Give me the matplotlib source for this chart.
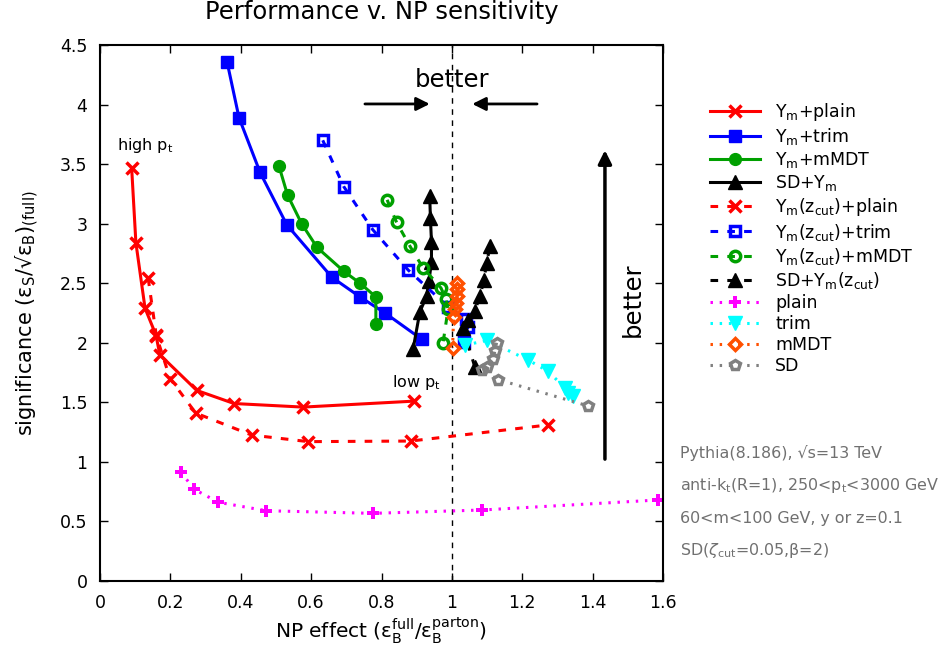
import numpy as np
import matplotlib
matplotlib.use("Agg")
import matplotlib.pyplot as plt

# =========================
# Data
# =========================

# Y_m + plain (solid red, x)
ym_plain_x = [0.090, 0.102, 0.128, 0.159, 0.170, 0.275, 0.381, 0.577, 0.892]
ym_plain_y = [3.465, 2.84, 2.29, 2.065, 1.90, 1.60, 1.49, 1.46, 1.51]

# Y_m + trim (solid blue, squares)
ym_trim_x = [0.361, 0.395, 0.455, 0.531, 0.659, 0.739, 0.810, 0.914]
ym_trim_y = [4.36, 3.89, 3.43, 2.99, 2.55, 2.385, 2.25, 2.03]

# Y_m + mMDT (solid green, circles)
ym_mmdt_x = [0.509, 0.533, 0.573, 0.617, 0.693, 0.739, 0.784, 0.784]
ym_mmdt_y = [3.48, 3.24, 3.00, 2.80, 2.60, 2.50, 2.385, 2.16]

# SD + Y_m (solid black, triangles)
sd_ym_x = [0.937, 0.939, 0.942, 0.942, 0.935, 0.928, 0.909, 0.890]
sd_ym_y = [3.23, 3.05, 2.85, 2.68, 2.52, 2.39, 2.26, 1.95]

# Y_m(zcut) + plain (dashed red)
ymz_plain_x = [0.137, 0.160, 0.199, 0.272, 0.431, 0.592, 0.883, 1.273]
ymz_plain_y = [2.54, 2.06, 1.70, 1.41, 1.225, 1.17, 1.175, 1.31]

# Y_m(zcut) + trim (dashed blue)
ymz_trim_x = [0.633, 0.693, 0.775, 0.876, 0.990, 1.040, 1.046, 1.035]
ymz_trim_y = [3.70, 3.31, 2.95, 2.61, 2.30, 2.20, 2.135, 2.01]

# Y_m(zcut) + mMDT (dashed green)
ymz_mmdt_x = [0.816, 0.843, 0.881, 0.918, 0.969, 0.983, 0.989, 0.975]
ymz_mmdt_y = [3.20, 3.01, 2.81, 2.63, 2.46, 2.37, 2.28, 2.00]

# SD + Y_m(zcut) (dashed black)
sd_ymz_x = [1.065, 1.032, 1.046, 1.065, 1.080, 1.091, 1.099, 1.108]
sd_ymz_y = [1.80, 2.12, 2.19, 2.27, 2.39, 2.53, 2.67, 2.81]

# plain (dotted magenta)
plain_x = [0.230, 0.268, 0.336, 0.472, 0.775, 1.086, 1.585, 1.70]
plain_y = [0.913, 0.770, 0.661, 0.590, 0.568, 0.596, 0.680, 0.72]

# trim (dotted cyan)
trim_x = [1.037, 1.100, 1.217, 1.274, 1.321, 1.330, 1.345]
trim_y = [1.98, 2.02, 1.855, 1.76, 1.62, 1.575, 1.55]

# mMDT (dotted orange)
mmdt_x = [1.015, 1.015, 1.014, 1.012, 1.008, 1.005, 1.002]
mmdt_y = [2.50, 2.45, 2.39, 2.33, 2.28, 2.22, 1.96]

# SD (dotted gray)
sd_x = [1.127, 1.122, 1.117, 1.100, 1.085, 1.132, 1.387]
sd_y = [2.00, 1.93, 1.86, 1.80, 1.77, 1.69, 1.47]

info_lines = [
    "Pythia(8.186), √s=13 TeV",
    r"anti-k$_\mathrm{t}$(R=1), 250<p$_\mathrm{t}$<3000 GeV",
    "60<m<100 GeV, y or z=0.1",
    r"SD($\zeta_\mathrm{cut}$=0.05,β=2)",
]

# =========================
# Plot
# =========================

plt.rcParams["font.family"] = ["DejaVu Sans"]
plt.rcParams["mathtext.fontset"] = "dejavusans"
plt.rcParams["font.size"] = 12.5

fig = plt.figure(figsize=(9.41, 6.51), dpi=100)
ax = fig.add_axes([100 / 941, 1 - 581 / 651, 563 / 941, 536 / 651])

red = "#ff0000"
blue = "#0000ff"
green = "#00a000"
orange = "#ff5000"
gray = "#808080"

lw = 2.2
ms = 8.5

ax.plot(ym_plain_x, ym_plain_y, color=red, lw=lw, marker="x", ms=ms, mew=2.5,
        label=r"Y$_\mathrm{m}$+plain")
ax.plot(ym_trim_x, ym_trim_y, color=blue, lw=lw, marker="s", ms=ms + 0.5,
        label=r"Y$_\mathrm{m}$+trim")
ax.plot(ym_mmdt_x, ym_mmdt_y, color=green, lw=lw, marker="o", ms=ms,
        label=r"Y$_\mathrm{m}$+mMDT")
ax.plot(sd_ym_x, sd_ym_y, color="black", lw=lw, marker="^", ms=ms + 1,
        label=r"SD+Y$_\mathrm{m}$")

dash = (0, (2.5, 3))
ax.plot(ymz_plain_x, ymz_plain_y, color=red, lw=lw, ls=dash, marker="x", ms=ms, mew=2.5,
        label=r"Y$_\mathrm{m}$(z$_\mathrm{cut}$)+plain")
ax.plot(ymz_trim_x, ymz_trim_y, color=blue, lw=lw, ls=dash, marker="s", ms=ms - 1,
        mfc="none", mew=2.5, label=r"Y$_\mathrm{m}$(z$_\mathrm{cut}$)+trim")
ax.plot(ymz_mmdt_x, ymz_mmdt_y, color=green, lw=lw, ls=dash, marker="o", ms=ms - 1,
        mfc="none", mew=2.5, label=r"Y$_\mathrm{m}$(z$_\mathrm{cut}$)+mMDT")
ax.plot(sd_ymz_x, sd_ymz_y, color="black", lw=lw, ls=dash, marker="^", ms=ms + 1,
        label=r"SD+Y$_\mathrm{m}$(z$_\mathrm{cut}$)")

dot = (0, (0.8, 2.2))
ax.plot(plain_x, plain_y, color="#ff00ff", lw=lw, ls=dot, marker="P", ms=ms,
        mew=0, label="plain")
ax.plot(trim_x, trim_y, color="#00ffff", lw=lw, ls=dot, marker="v", ms=ms + 1,
        label="trim")
ax.plot(mmdt_x, mmdt_y, color=orange, lw=lw, ls=dot, marker="D", ms=ms - 2.5,
        mfc="none", mew=2.5, label="mMDT")
ax.plot(sd_x, sd_y, color=gray, lw=lw, ls=dot, marker="p", ms=ms - 1.5,
        mfc="none", mew=2.5, label="SD")

ax.axvline(1.0, color="black", lw=1, ls=(0, (4, 4)), zorder=0)

# annotations
ax.text(0.048, 3.62, r"high p$_\mathrm{t}$", fontsize=11.5)
ax.text(0.83, 1.63, r"low p$_\mathrm{t}$", fontsize=11.5)
ax.text(1.0, 4.15, "better", fontsize=17.5, ha="center")
ax.annotate("", xy=(0.945, 4.005), xytext=(0.745, 4.005),
            arrowprops=dict(arrowstyle="-|>", color="black", lw=2, mutation_scale=20))
ax.annotate("", xy=(1.05, 4.005), xytext=(1.25, 4.005),
            arrowprops=dict(arrowstyle="-|>", color="black", lw=2, mutation_scale=20))
ax.annotate("", xy=(1.435, 3.64), xytext=(1.435, 1.0),
            arrowprops=dict(arrowstyle="-|>", color="black", lw=2.5, mutation_scale=20))
ax.text(1.515, 2.36, "better", fontsize=17.5, rotation=90, ha="center", va="center")

ax.set_xlim(0, 1.6)
ax.set_ylim(0, 4.5)
ax.set_xticks(np.arange(0, 1.61, 0.2))
ax.set_xticklabels(["0", "0.2", "0.4", "0.6", "0.8", "1", "1.2", "1.4", "1.6"])
ax.set_yticks(np.arange(0, 4.51, 0.5))
ax.set_yticklabels(["0", "0.5", "1", "1.5", "2", "2.5", "3", "3.5", "4", "4.5"])
ax.tick_params(direction="in", top=True, right=True, length=6, width=1, pad=9,
               labelsize=12.5)
for s in ax.spines.values():
    s.set_linewidth(1.5)

ax.set_xlabel(r"NP effect (ε$_\mathrm{B}^\mathrm{full}$/ε$_\mathrm{B}^\mathrm{parton}$)",
              fontsize=14.5, labelpad=4)
ax.set_ylabel(r"significance (ε$_\mathrm{S}$/√ε$_\mathrm{B}$)$_\mathrm{(full)}$",
              fontsize=15, labelpad=14)
ax.set_title("Performance v. NP sensitivity", fontsize=17.5, pad=19)

ax.legend(loc="upper left", bbox_to_anchor=(703 / 941, 1 - 94 / 651),
          bbox_transform=fig.transFigure, frameon=False, handlelength=2.9,
          labelspacing=0.18, handletextpad=0.85, borderaxespad=0)

for i, line in enumerate(info_lines):
    fig.text(680 / 941, 1 - (453 + 32.5 * i) / 651, line, fontsize=11.4,
             color="#707070", va="center")

fig.savefig("out.png", dpi=100)
